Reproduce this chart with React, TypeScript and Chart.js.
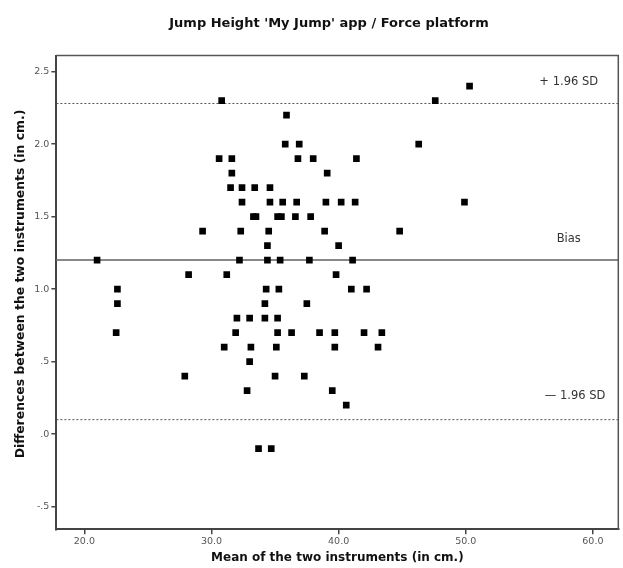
import React, { useEffect, useRef } from "react";
import { Chart, registerables } from "chart.js";

Chart.register(...registerables);

// Bland-Altman data: mean of the two instruments (x, cm) vs difference (y, cm)
const meanValues: number[] = [
  50.3,
  30.8, 47.6,
  35.9,
  35.8, 36.9, 46.3,
  30.6, 31.6, 36.8, 38.0, 41.4,
  31.6, 39.1,
  31.5, 32.4, 33.4, 34.6,
  32.4, 34.6, 35.6, 36.7, 39.0, 40.2, 41.3, 49.9,
  33.3, 33.5, 35.2, 35.5, 36.6, 37.8,
  29.3, 32.3, 34.5, 38.9, 44.8,
  34.4, 40.0,
  21.0, 32.2, 34.4, 35.4, 37.7, 41.1,
  28.2, 31.2, 39.8,
  22.6, 34.3, 35.3, 41.0, 42.2,
  22.6, 34.2, 37.5,
  32.0, 33.0, 34.2, 35.2,
  22.5, 31.9, 35.2, 36.3, 38.5, 39.7, 42.0, 43.4,
  31.0, 33.1, 35.1, 39.7, 43.1,
  33.0,
  27.9, 35.0, 37.3,
  32.8, 39.5,
  40.6,
  33.7, 34.7,
];
const diffValues: number[] = [
  2.4,
  2.3, 2.3,
  2.2,
  2.0, 2.0, 2.0,
  1.9, 1.9, 1.9, 1.9, 1.9,
  1.8, 1.8,
  1.7, 1.7, 1.7, 1.7,
  1.6, 1.6, 1.6, 1.6, 1.6, 1.6, 1.6, 1.6,
  1.5, 1.5, 1.5, 1.5, 1.5, 1.5,
  1.4, 1.4, 1.4, 1.4, 1.4,
  1.3, 1.3,
  1.2, 1.2, 1.2, 1.2, 1.2, 1.2,
  1.1, 1.1, 1.1,
  1.0, 1.0, 1.0, 1.0, 1.0,
  0.9, 0.9, 0.9,
  0.8, 0.8, 0.8, 0.8,
  0.7, 0.7, 0.7, 0.7, 0.7, 0.7, 0.7, 0.7,
  0.6, 0.6, 0.6, 0.6, 0.6,
  0.5,
  0.4, 0.4, 0.4,
  0.3, 0.3,
  0.2,
  -0.1, -0.1,
];

const upperLimit = 2.28;
const bias = 1.2;
const lowerLimit = 0.1;

const xMin = 17.8;
const xMax = 62.0;
const yMin = -0.656;
const yMax = 2.61;

const xTicks: number[] = [20, 30, 40, 50, 60];
const xTickLabels: string[] = ["20.0", "30.0", "40.0", "50.0", "60.0"];
const yTicks: number[] = [-0.5, 0, 0.5, 1.0, 1.5, 2.0, 2.5];
const yTickLabels: string[] = ["-.5", ".0", ".5", "1.0", "1.5", "2.0", "2.5"];

const titleText = "Jump Height 'My Jump' app / Force platform";
const xTitle = "Mean of the two instruments (in cm.)";
const yTitle = "Differences between the two instruments (in cm.)";
const upperLabel = "+ 1.96 SD";
const biasLabel = "Bias";
const lowerLabel = "\u2014 1.96 SD";

const FONT = "'DejaVu Sans', sans-serif";

export default function App() {
  const canvasRef = useRef<HTMLCanvasElement | null>(null);

  useEffect(() => {
    document.body.style.margin = "0";
    const canvas = canvasRef.current;
    if (!canvas) return;

    const points = meanValues.map((x, i) => ({ x, y: diffValues[i] }));
    const hline = (v: number) => [
      { x: xMin, y: v },
      { x: xMax, y: v },
    ];

    const decor = {
      id: "decor",
      afterDraw(chart: any) {
        const ctx = chart.ctx;
        const area = chart.chartArea;
        const xs = chart.scales.x;
        const ys = chart.scales.y;
        ctx.save();
        // frame (top and right)
        ctx.strokeStyle = "#555";
        ctx.lineWidth = 1.5;
        ctx.beginPath();
        ctx.moveTo(area.left, area.top);
        ctx.lineTo(area.right, area.top);
        ctx.lineTo(area.right, area.bottom);
        ctx.stroke();

        // title
        ctx.fillStyle = "#111";
        ctx.textAlign = "center";
        ctx.textBaseline = "middle";
        ctx.font = `bold 13px ${FONT}`;
        ctx.fillText(titleText, 329, 24);

        // x title
        ctx.font = `bold 12px ${FONT}`;
        ctx.fillText(xTitle, (area.left + area.right) / 2, 558);

        // y title
        ctx.save();
        ctx.font = `bold 12.4px ${FONT}`;
        ctx.translate(21, 284);
        ctx.rotate(-Math.PI / 2);
        ctx.fillText(yTitle, 0, 0);
        ctx.restore();

        // reference line labels
        ctx.font = `11.5px ${FONT}`;
        ctx.fillStyle = "#333";
        const lx = xs.getPixelForValue(58.1);
        ctx.fillText(upperLabel, lx, ys.getPixelForValue(upperLimit) - 21);
        ctx.fillText(biasLabel, lx, ys.getPixelForValue(bias) - 21);
        ctx.fillText(lowerLabel, xs.getPixelForValue(58.6), ys.getPixelForValue(lowerLimit) - 24);
        ctx.restore();
      },
    };

    const chart = new Chart(canvas, {
      type: "scatter",
      data: {
        datasets: [
          {
            type: "line",
            data: hline(upperLimit),
            borderColor: "#555",
            borderWidth: 1,
            borderDash: [2, 2],
            pointRadius: 0,
            order: 2,
          } as any,
          {
            type: "line",
            data: hline(bias),
            borderColor: "#888",
            borderWidth: 2,
            pointRadius: 0,
            order: 2,
          } as any,
          {
            type: "line",
            data: hline(lowerLimit),
            borderColor: "#555",
            borderWidth: 1,
            borderDash: [2, 2],
            pointRadius: 0,
            order: 2,
          } as any,
          {
            data: points,
            pointStyle: "rect",
            pointRadius: 4.7,
            pointHoverRadius: 4.7,
            backgroundColor: "#000",
            borderColor: "#000",
            borderWidth: 0,
            order: 1,
          },
        ],
      },
      options: {
        animation: false,
        responsive: false,
        maintainAspectRatio: false,
        layout: { padding: { left: 0, right: 1.2, top: 55.6, bottom: 0 } },
        plugins: {
          legend: { display: false },
          tooltip: { enabled: false },
          title: { display: false },
        },
        scales: {
          x: {
            type: "linear",
            min: xMin,
            max: xMax,
            afterBuildTicks: (s: any) => {
              s.ticks = xTicks.map((v) => ({ value: v }));
            },
            afterFit: (s: any) => {
              s.height = 568 - 529.3;
            },
            ticks: {
              callback: (v: any) => {
                const i = xTicks.indexOf(Number(v));
                return i >= 0 ? xTickLabels[i] : "";
              },
              font: { family: FONT, size: 9.5 },
              color: "#555",
              padding: 2,
              maxRotation: 0,
            },
            grid: { drawOnChartArea: false, drawTicks: true, tickLength: 5, color: "#444", lineWidth: 1.5 },
            border: { display: true, color: "#444", width: 2 },
          },
          y: {
            type: "linear",
            min: yMin,
            max: yMax,
            afterBuildTicks: (s: any) => {
              s.ticks = yTicks.map((v) => ({ value: v }));
            },
            afterFit: (s: any) => {
              s.width = 56.4;
            },
            ticks: {
              callback: (v: any) => {
                const i = yTicks.findIndex((t) => Math.abs(t - Number(v)) < 1e-9);
                return i >= 0 ? yTickLabels[i] : "";
              },
              font: { family: FONT, size: 9.5 },
              color: "#555",
              padding: 2,
            },
            grid: { drawOnChartArea: false, drawTicks: true, tickLength: 5, color: "#444", lineWidth: 1.5 },
            border: { display: true, color: "#444", width: 2 },
          },
        },
      },
      plugins: [decor],
    });

    return () => chart.destroy();
  }, []);

  return (
    <div style={{ width: 623, height: 568, background: "#fff" }}>
      <canvas ref={canvasRef} width={623} height={568} style={{ display: "block" }} />
    </div>
  );
}
